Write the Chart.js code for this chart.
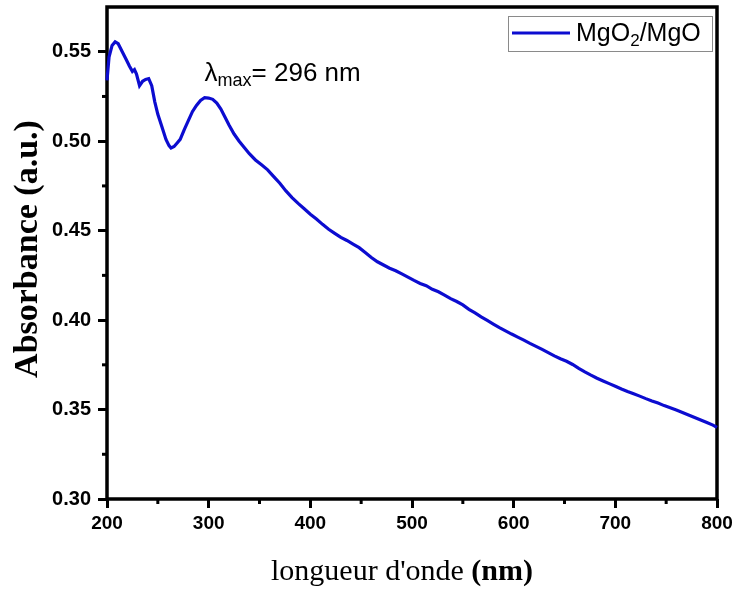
<!DOCTYPE html>
<html>
<head>
<meta charset="utf-8">
<script src="https://cdn.jsdelivr.net/npm/chart.js@4.4.1/dist/chart.umd.min.js"></script>
<style>
  html, body { margin: 0; padding: 0; background: #fff; }
  #wrap { width: 733px; height: 590px; }
</style>
</head>
<body>
<div id="wrap"><canvas id="uvChart" width="733" height="590"></canvas></div>
<script>
// UV-Vis spectrum, MgO2/MgO
const wavelength = [
  200, 202, 205, 208, 211, 215, 219, 222, 225, 227, 229, 232, 235, 238, 241, 244, 247, 250, 254, 258,
  261, 263, 266, 269, 272, 276, 280, 284, 288, 292, 296, 300, 304, 308, 312, 316, 320, 325, 330, 335,
  340, 346, 352, 358, 364, 370, 376, 382, 388, 394, 400, 406, 412, 418, 424, 430, 436, 442, 448, 454,
  460, 466, 472, 478, 484, 490, 496, 502, 508, 514, 520, 526, 532, 538, 544, 550, 556, 562, 568, 574,
  580, 586, 592, 598, 604, 610, 616, 622, 628, 634, 640, 646, 652, 658, 664, 670, 676, 682, 688, 694,
  700, 706, 712, 718, 724, 730, 736, 742, 748, 754, 760, 766, 772, 778, 784, 790, 796, 800
];
const absorbance = [
  0.5340, 0.5470, 0.5535, 0.5555, 0.5545, 0.5500, 0.5455, 0.5420, 0.5390, 0.5400, 0.5375, 0.5310, 0.5335, 0.5345, 0.5350, 0.5310, 0.5220, 0.5150, 0.5080, 0.5010,
  0.4975, 0.4962, 0.4970, 0.4990, 0.5010, 0.5065, 0.5115, 0.5165, 0.5200, 0.5228, 0.5243, 0.5241, 0.5234, 0.5213, 0.5180, 0.5135, 0.5090, 0.5040, 0.5000, 0.4965,
  0.4930, 0.4895, 0.4868, 0.4840, 0.4802, 0.4765, 0.4722, 0.4685, 0.4652, 0.4622, 0.4592, 0.4565, 0.4535, 0.4508, 0.4485, 0.4462, 0.4445, 0.4425, 0.4405, 0.4378,
  0.4350, 0.4326, 0.4308, 0.4290, 0.4276, 0.4258, 0.4240, 0.4222, 0.4205, 0.4192, 0.4172, 0.4158, 0.4140, 0.4120, 0.4104, 0.4085, 0.4060, 0.4040, 0.4018, 0.3998,
  0.3978, 0.3958, 0.3940, 0.3922, 0.3905, 0.3888, 0.3870, 0.3853, 0.3836, 0.3818, 0.3800, 0.3784, 0.3770, 0.3752, 0.3730, 0.3710, 0.3692, 0.3675, 0.3660, 0.3645,
  0.3630, 0.3615, 0.3601, 0.3588, 0.3575, 0.3561, 0.3548, 0.3536, 0.3522, 0.3510, 0.3497, 0.3484, 0.3470, 0.3456, 0.3442, 0.3428, 0.3413, 0.3400
];
const xMinorTicks = [250, 350, 450, 550, 650, 750];
const yMinorTicks = [0.325, 0.375, 0.425, 0.475, 0.525];
const legendParts = ['MgO', '2', '/MgO']; // middle part is a subscript
const lambdaMax = 296;

const lineColor = '#0c0cd0';
const SANS = "'Liberation Sans', Arial, sans-serif";
const SERIF = "'Liberation Serif', 'Times New Roman', serif";

const extras = {
  id: 'extras',
  beforeDatasetsDraw(chart) {
    const { ctx, chartArea: a, scales: { x, y } } = chart;
    ctx.save();
    ctx.strokeStyle = '#000';
    ctx.lineWidth = 3;
    // short minor ticks
    xMinorTicks.forEach(v => {
      const px = x.getPixelForValue(v);
      ctx.beginPath(); ctx.moveTo(px, a.bottom); ctx.lineTo(px, a.bottom + 5); ctx.stroke();
    });
    yMinorTicks.forEach(v => {
      const py = y.getPixelForValue(v);
      ctx.beginPath(); ctx.moveTo(a.left, py); ctx.lineTo(a.left - 5, py); ctx.stroke();
    });
    // frame
    ctx.lineWidth = 3.5;
    ctx.strokeRect(a.left, a.top, a.right - a.left, a.bottom - a.top);
    ctx.restore();
  },
  afterDraw(chart) {
    const { ctx, chartArea: a, scales: { x, y } } = chart;
    ctx.save();
    ctx.fillStyle = '#000';

    // y title
    ctx.save();
    ctx.translate(28, 249);
    ctx.rotate(-Math.PI / 2);
    ctx.font = 'bold 34px ' + SERIF;
    ctx.textAlign = 'center';
    ctx.textBaseline = 'middle';
    ctx.fillText('Absorbance (a.u.)', 0, 0);
    ctx.restore();

    // x title, "(nm)" in bold
    const t1 = "longueur d'onde ", t2 = '(nm)';
    ctx.font = '30px ' + SERIF;
    const w1 = ctx.measureText(t1).width;
    ctx.font = 'bold 30px ' + SERIF;
    const w2 = ctx.measureText(t2).width;
    const tx = 402 - (w1 + w2) / 2;
    ctx.textBaseline = 'alphabetic';
    ctx.textAlign = 'left';
    ctx.font = '30px ' + SERIF;
    ctx.fillText(t1, tx, 580);
    ctx.font = 'bold 30px ' + SERIF;
    ctx.fillText(t2, tx + w1, 580);

    // peak annotation
    let ax = x.getPixelForValue(lambdaMax);
    const ay = y.getPixelForValue(0.5335);
    ctx.font = '26px ' + SANS;
    ctx.fillText('\u03bb', ax, ay);
    ax += ctx.measureText('\u03bb').width;
    ctx.font = '18px ' + SANS;
    ctx.fillText('max', ax, ay + 5);
    ax += ctx.measureText('max').width;
    ctx.font = '26px ' + SANS;
    ctx.fillText('= ' + lambdaMax + ' nm', ax, ay);

    // legend box
    const bx = 508, by = 16, bw = 204, bh = 35;
    ctx.strokeStyle = '#8a8a8a';
    ctx.lineWidth = 1;
    ctx.strokeRect(bx + 0.5, by + 0.5, bw, bh);
    ctx.strokeStyle = lineColor;
    ctx.lineWidth = 3;
    ctx.beginPath(); ctx.moveTo(bx + 4, by + 17); ctx.lineTo(bx + 62, by + 17); ctx.stroke();
    let lx = bx + 68;
    const ly = by + 25;
    ctx.font = '25px ' + SANS;
    ctx.fillText(legendParts[0], lx, ly);
    lx += ctx.measureText(legendParts[0]).width;
    ctx.font = '17px ' + SANS;
    ctx.fillText(legendParts[1], lx, ly + 5);
    lx += ctx.measureText(legendParts[1]).width;
    ctx.font = '25px ' + SANS;
    ctx.fillText(legendParts[2], lx, ly);
    ctx.restore();
  }
};

new Chart(document.getElementById('uvChart').getContext('2d'), {
  type: 'line',
  data: {
    datasets: [{
      label: 'MgO2/MgO',
      data: wavelength.map((w, i) => ({ x: w, y: absorbance[i] })),
      borderColor: lineColor,
      borderWidth: 3.2,
      pointRadius: 0,
      tension: 0,
      fill: false,
      clip: false,
    }],
  },
  options: {
    responsive: false,
    animation: false,
    layout: { autoPadding: false, padding: { top: 7, right: 16, left: 0, bottom: 0 } },
    plugins: { legend: { display: false }, tooltip: { enabled: false } },
    scales: {
      x: {
        type: 'linear',
        min: 200,
        max: 800,
        afterFit: s => {
          s.height = 91;
          s.paddingLeft = 0;
          s.paddingRight = 0;
        },
        border: { display: false },
        grid: { drawOnChartArea: false, drawTicks: true, tickLength: 9, tickWidth: 3, tickColor: '#000' },
        ticks: {
          stepSize: 100,
          padding: 4,
          color: '#000',
          maxRotation: 0,
          font: { family: SANS, size: 19, weight: 'bold' },
        },
      },
      y: {
        min: 0.30,
        max: 0.575,
        afterFit: s => {
          s.width = 107;
          s.paddingTop = 0;
          s.paddingBottom = 0;
        },
        afterBuildTicks: s => { s.ticks = s.ticks.filter(t => t.value <= 0.5501); },
        border: { display: false },
        grid: { drawOnChartArea: false, drawTicks: true, tickLength: 9, tickWidth: 3, tickColor: '#000' },
        ticks: {
          stepSize: 0.05,
          includeBounds: false,
          padding: 7,
          color: '#000',
          font: { family: SANS, size: 20, weight: 'bold' },
          callback: v => v.toFixed(2),
        },
      },
    },
  },
  plugins: [extras],
});
</script>
</body>
</html>
